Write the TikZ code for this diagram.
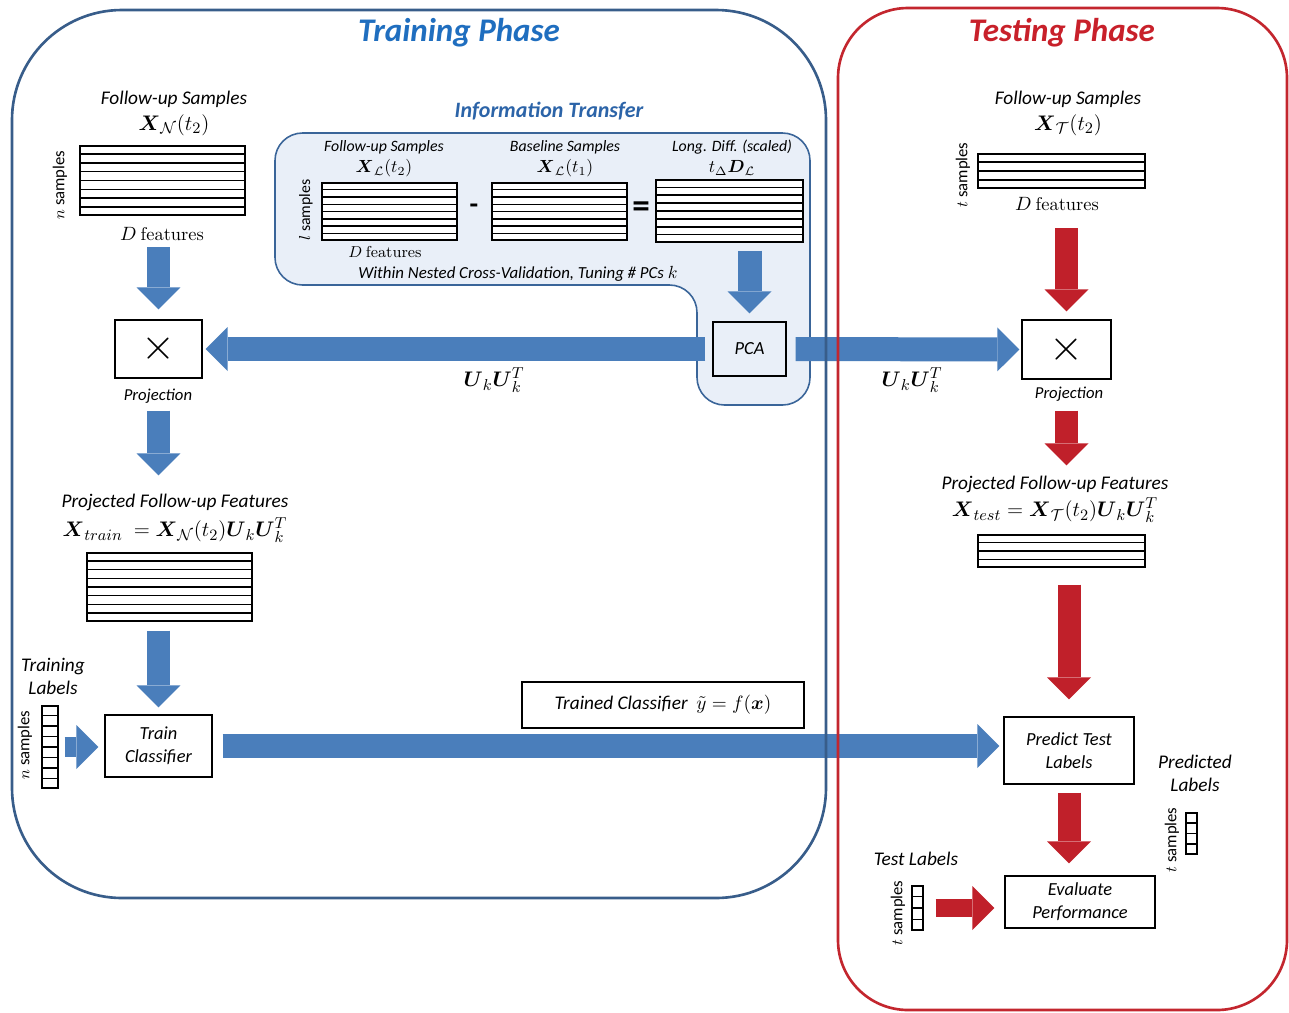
\documentclass[tikz,border=0pt]{standalone}
\usepackage{amsmath,amssymb}
\usepackage{fontspec}
\setmainfont{Carlito}
\usetikzlibrary{arrows.meta,calc}
\definecolor{TrainLine}{HTML}{385D8A}
\definecolor{TrainTitle}{HTML}{1F6EBF}
\definecolor{BlueArrow}{HTML}{4A7EBB}
\definecolor{InfoFill}{HTML}{E9EFF8}
\definecolor{InfoLine}{HTML}{3A6599}
\definecolor{InfoTitle}{HTML}{2C64A8}
\definecolor{TestLine}{HTML}{C3262E}
\definecolor{TestTitle}{HTML}{C8202A}
\definecolor{RedArrow}{HTML}{C0202A}
\newcommand{\serifx}{\fontfamily{lmr}\selectfont}

\begin{document}
\begin{tikzpicture}[x=0.02cm,y=-0.02cm,
    title/.style={font=\fontsize{18.8}{21}\selectfont\bfseries\itshape,inner sep=0pt},
    lab/.style={font=\fontsize{11}{13}\selectfont\itshape,align=center,inner sep=0pt},
    smalllab/.style={font=\fontsize{9}{11}\selectfont\itshape,inner sep=0pt},
    mlab/.style={font=\fontsize{13}{15}\selectfont,inner sep=0pt},
    smallmlab/.style={font=\fontsize{10}{12}\selectfont,inner sep=0pt},
    feat/.style={font=\fontsize{10.5}{12}\selectfont,inner sep=0pt},
    samp/.style={rotate=90,font=\fontsize{9.5}{11}\selectfont,inner sep=0pt},
    datamat/.style={draw,fill=white,line width=0.8pt,inner sep=0pt},
    stepbox/.style={draw,fill=white,line width=0.8pt,align=center,inner sep=0pt,font=\fontsize{10.5}{13}\selectfont\itshape},
    cross/.style={font=\fontsize{26}{28}\selectfont},
    projlab/.style={font=\fontsize{9.5}{11}\selectfont\itshape,inner sep=0pt},
    barrow/.style={draw=BlueArrow,line width=0.48cm,-{Triangle[width=0.88cm,length=0.44cm,line width=0pt]}},
    rarrow/.style={draw=RedArrow,line width=0.46cm,-{Triangle[width=0.88cm,length=0.44cm,line width=0pt]}},
    phase/.style={line width=1.5pt}
]
\useasboundingbox (0,0) rectangle (1289,1012);

% information transfer panel
\draw[InfoLine,fill=InfoFill,line width=0.9pt,rounded corners=0.55cm]
    (275,133) -- (810,133) -- (810,405) -- (697,405) -- (697,285) -- (275,285) -- cycle;

% titles
\node[title,TrainTitle] (trainT) at (459,33) {Training Phase};
\node[title,TestTitle] (testT) at (1062,33) {Testing Phase};
\node[font=\fontsize{12.5}{14}\selectfont\bfseries\itshape,InfoTitle] (infoT) at (549,111) {Information Transfer};

% training side
\node[lab] (fuN) at (174,99) {Follow-up Samples};
\node[mlab] (xN) at (174,125) {$\boldsymbol{X}_{\mathcal{N}}(t_2)$};
\node[datamat,minimum width=3.3cm,minimum height=1.38cm] (matN) at (162.5,180.5) {};
\node[samp] (nN) at (60,185) {$n$ samples};
\node[feat] (featN) at (162,234) {$D$ {\serifx features}};
\node[stepbox,cross,minimum width=1.74cm,minimum height=1.16cm] (projL) at (158.5,349) {$\times$};
\node[projlab] (projLt) at (158,396) {Projection};
\node[lab] (pfN) at (175,502) {Projected Follow-up Features};
\node[mlab] (xtr) at (175,530) {$\boldsymbol{X}_{train}\ = \boldsymbol{X}_{\mathcal{N}}(t_2)\boldsymbol{U}_k\boldsymbol{U}_k^T$};
\node[datamat,minimum width=3.3cm,minimum height=1.36cm] (matTr) at (169.5,587) {};
\node[stepbox,minimum width=2.14cm,minimum height=1.24cm] (trainC) at (158.5,746) {Train\\Classifier};
\node[lab] (trLab) at (53,676) {Training\\Labels};
\node[datamat,minimum width=0.32cm,minimum height=1.64cm] (vecN) at (50,747) {};
\node[samp] (nN2) at (25,745) {$n$ samples};

% information transfer
\node[smalllab] (fuL) at (384,147) {Follow-up Samples};
\node[smallmlab] (xL2) at (384,168) {$\boldsymbol{X}_{\mathcal{L}}(t_2)$};
\node[datamat,minimum width=2.7cm,minimum height=1.14cm] (mat1) at (389.5,211.5) {};
\node[samp,font=\fontsize{9}{11}\selectfont] (lN) at (306,210) {$l$ samples};
\node[feat,font=\fontsize{9}{11}\selectfont] (featL) at (385,252) {$D$ {\serifx features}};
\node[font=\fontsize{16}{18}\selectfont\bfseries] (minus) at (474,209) {-};
\node[smalllab] (fuB) at (565,147) {Baseline Samples};
\node[smallmlab] (xL1) at (565,168) {$\boldsymbol{X}_{\mathcal{L}}(t_1)$};
\node[datamat,minimum width=2.7cm,minimum height=1.14cm] (mat2) at (559.5,211.5) {};
\node[font=\fontsize{20}{22}\selectfont\bfseries] (eq) at (641,210) {=};
\node[smalllab] (ldL) at (732,147) {Long. Diff. (scaled)};
\node[smallmlab] (tdL) at (732,168) {$t_{\Delta}\boldsymbol{D}_{\mathcal{L}}$};
\node[datamat,minimum width=2.94cm,minimum height=1.24cm] (mat3) at (729.5,211) {};
\node[font=\fontsize{9.6}{12}\selectfont\itshape,inner sep=0pt] (cvT) at (518,274) {Within Nested Cross-Validation, Tuning \# PCs $k$};
\node[stepbox,fill=none,minimum width=1.46cm,minimum height=1.08cm] (pca) at (749.5,349) {PCA};
\node[mlab] (ukL) at (494,380) {$\boldsymbol{U}_k\boldsymbol{U}_k^T$};
\node[mlab] (ukR) at (912,380) {$\boldsymbol{U}_k\boldsymbol{U}_k^T$};
\node[stepbox,font=\fontsize{11}{13}\selectfont\itshape,minimum width=5.64cm,minimum height=0.92cm] (trained) at (663,705) {Trained Classifier\ \ $\tilde{y} = f(\boldsymbol{x})$};

% testing side
\node[lab] (fuT) at (1068,99) {Follow-up Samples};
\node[mlab] (xT) at (1068,125) {$\boldsymbol{X}_{\mathcal{T}}(t_2)$};
\node[datamat,minimum width=3.34cm,minimum height=0.68cm] (matT) at (1061.5,171) {};
\node[samp] (tT) at (963,175) {$t$ samples};
\node[feat] (featT) at (1057,204) {$D$ {\serifx features}};
\node[stepbox,cross,minimum width=1.78cm,minimum height=1.18cm] (projR) at (1066.5,349.5) {$\times$};
\node[projlab] (projRt) at (1069,394) {Projection};
\node[lab] (pfT) at (1055,484) {Projected Follow-up Features};
\node[mlab] (xte) at (1055,510) {$\boldsymbol{X}_{test} = \boldsymbol{X}_{\mathcal{T}}(t_2)\boldsymbol{U}_k\boldsymbol{U}_k^T$};
\node[datamat,minimum width=3.34cm,minimum height=0.64cm] (matTe) at (1061.5,551) {};
\node[stepbox,minimum width=2.6cm,minimum height=1.34cm] (predC) at (1069,750.5) {Predict Test\\Labels};
\node[lab] (predLab) at (1195,773) {Predicted\\Labels};
\node[datamat,minimum width=0.22cm,minimum height=0.82cm] (vecP) at (1191.5,833.5) {};
\node[samp] (tP) at (1172,840) {$t$ samples};
\node[stepbox,minimum width=3.0cm,minimum height=1.04cm] (evalC) at (1080,902) {Evaluate\\Performance};
\node[lab] (testLab) at (916,859) {Test Labels};
\node[datamat,minimum width=0.22cm,minimum height=0.88cm] (vecT) at (917.5,908) {};
\node[samp] (tT2) at (898,913) {$t$ samples};

% rows of the data matrices and label vectors
\foreach \m/\k/\r in {matN/7/8,matTr/7/8,mat1/7/8,mat2/7/8,mat3/7/8,matT/3/4,matTe/3/4,vecN/7/8,vecP/3/4,vecT/3/4}
  \foreach \i in {1,...,\k}
    \draw[line width=0.8pt] ($(\m.north west)!\i/\r!(\m.south west)$) -- ($(\m.north east)!\i/\r!(\m.south east)$);

% blue arrows
\draw[barrow,shorten <=0.12cm,shorten >=0.2cm] (projL |- featN.south) -- (projL.north);
\draw[barrow,shorten <=0.14cm,shorten >=0.36cm] (projL |- projLt.south) -- (projL |- pfN.north);
\draw[barrow,shorten <=0.18cm,shorten >=0.14cm] (trainC |- matTr.south) -- (trainC.north);
\draw[barrow,line width=0.4cm,shorten <=0.12cm,shorten >=0.12cm] (vecN.east) -- (vecN.east -| trainC.west);
\draw[barrow,shorten <=0.2cm,shorten >=0.08cm] (trainC.east) -- (trainC.east -| predC.west);
\draw[barrow,shorten <=0.16cm,shorten >=0.16cm] (pca |- mat3.south) -- (pca.north);
\draw[barrow,shorten <=0.14cm,shorten >=0.06cm] (pca.west) -- (projL.east);
\draw[barrow,shorten <=0.18cm,shorten >=0.04cm] (pca.east) -- (projR.west);

% red arrows
\draw[rarrow,shorten <=0.34cm,shorten >=0.16cm] (projR |- featT.south) -- (projR.north);
\draw[rarrow,shorten <=0.18cm,shorten >=0.2cm] (projR |- projRt.south) -- (projR |- pfT.north);
\draw[rarrow,shorten <=0.34cm,shorten >=0.34cm] (predC |- matTe.south) -- (predC.north);
\draw[rarrow,shorten <=0.16cm,shorten >=0.24cm] (predC.south) -- (predC |- evalC.north);
\draw[rarrow,line width=0.36cm,shorten <=0.24cm,shorten >=0.2cm] (vecT.east) -- (vecT.east -| evalC.west);

% phase frames
\draw[TrainLine,phase,rounded corners=2.2cm] (12,10) rectangle (826,898);
\draw[TestLine,phase,rounded corners=1.4cm] (838,8) rectangle (1287,1010);
\end{tikzpicture}
\end{document}
